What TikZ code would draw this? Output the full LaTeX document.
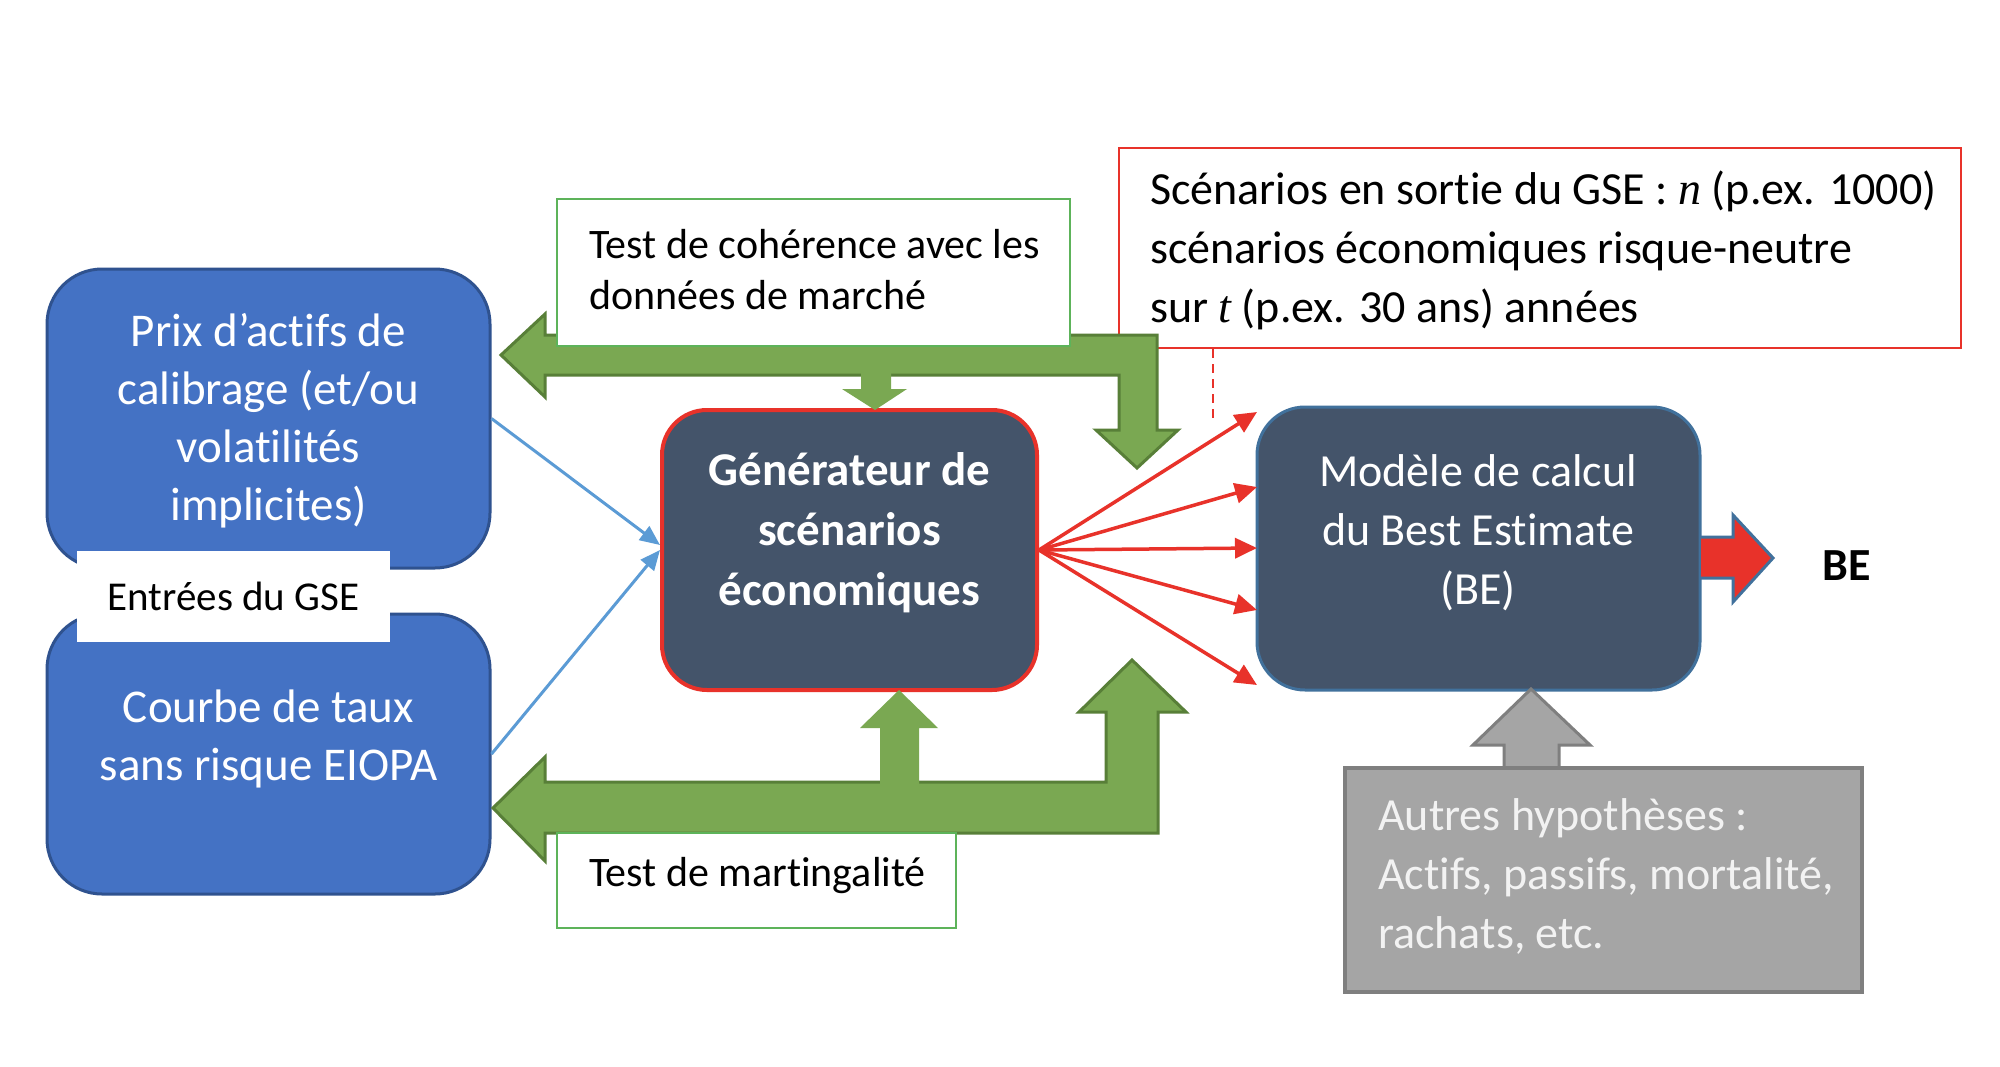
\documentclass[tikz,border=0pt]{standalone}
\usepackage{fontspec}
\setmainfont{Carlito}[Ligatures=NoCommon]
\newfontfamily\serifvar{Liberation Serif}
\usetikzlibrary{arrows.meta}
\definecolor{boxblue}{HTML}{4472C4}
\definecolor{boxblueline}{HTML}{2F528F}
\definecolor{slate}{HTML}{44546A}
\definecolor{slateline}{HTML}{41719C}
\definecolor{gfill}{HTML}{7AA852}
\definecolor{gdark}{HTML}{587F38}
\definecolor{gline}{HTML}{5DB35A}
\definecolor{redl}{HTML}{E8322A}
\definecolor{lineblue}{HTML}{5B9BD5}
\definecolor{grayfill}{HTML}{A5A5A5}
\definecolor{grayline}{HTML}{7F7F7F}
\definecolor{paletext}{HTML}{F2F2F2}
\newcommand{\varit}[1]{{\serifvar\itshape #1}}
\begin{document}
\begin{tikzpicture}[x=1pt,y=-1pt,
  txt/.style={font=\fontsize{46}{59}\selectfont, inner sep=0pt},
  bigtxt/.style={font=\fontsize{47}{58}\selectfont, inner sep=0pt},
  smalltxt/.style={font=\fontsize{42}{51}\selectfont, inner sep=0pt},
  bluebox/.style={draw=boxblueline, line width=3pt, fill=boxblue, rounded corners=55pt, inner sep=0pt},
  slatebox/.style={fill=slate, rounded corners=48pt, inner sep=0pt},
  testbox/.style={draw=gline, line width=2pt, fill=white, inner sep=0pt},
  bigarrow/.style={fill=gfill, draw=gdark, line width=3pt, line join=miter},
  smallarrow/.style={fill=gfill},
  fan/.style={draw=redl, line width=3.5pt, -{Triangle[length=22pt,width=20pt]}},
  inarrow/.style={draw=lineblue, line width=3pt, -{Triangle[length=20pt,width=17pt]}}
]
\useasboundingbox (0,0) rectangle (2000,1066);
\fill[white] (0,0) rectangle (2000,1066);

% left input boxes
\node[bluebox, minimum width=443pt, minimum height=299pt] (prix) at (268.5,418.5) {};
\node[bigtxt, text=white, align=center] (prixtxt) at (268.5,421) {Prix d’actifs de\\calibrage (et/ou\\volatilités\\implicites)};
\node[bluebox, minimum width=443pt, minimum height=280pt] (courbe) at (268.5,754) {};
\node[bigtxt, text=white, align=center] (courbetxt) at (268.5,739) {Courbe de taux\\sans risque EIOPA};
\node[fill=white, font=\fontsize{41}{50}\selectfont, inner sep=0pt, minimum width=313pt, minimum height=91pt] (entrees) at (233.5,596.5) {Entrées du GSE};

% red scenario box (behind green arrow)
\node[draw=redl, line width=2pt, fill=white, minimum width=842pt, minimum height=200pt, inner sep=0pt] (scen) at (1540,248) {};
\node[txt, anchor=west, align=left] (scentxt) at (1150,250) {Scénarios en sortie du GSE : \varit{n} (p.ex. 1000)\\scénarios économiques risque-neutre\\sur \varit{t} (p.ex. 30 ans) années};

% generator
\node[slatebox, draw=redl, line width=4pt, rounded corners=45pt, minimum width=375pt, minimum height=280pt] (gen) at (849.5,550) {};
\node[text=white, font=\fontsize{47}{60}\selectfont\bfseries, inner sep=0pt, align=center] (gentxt) at (849.5,533) {Générateur de\\scénarios\\économiques};

% model
\node[slatebox, draw=slateline, line width=3pt, minimum width=443pt, minimum height=283pt] (model) at (1478.5,548.5) {};
\node[txt, text=white, align=center] (modeltxt) at (1478,533) {Modèle de calcul\\du Best Estimate\\(BE)};

% green arrows
\draw[bigarrow] (501,355) -- (545,314) -- (545,335) -- (1157,335) -- (1157,430) -- (1178,430)
  -- (1137,468) -- (1096,430) -- (1119,430) -- (1119,375) -- (545,375) -- (545,397) -- cycle;
\fill[smallarrow] (861,372) -- (891,372) -- (891,389) -- (907,389) -- (875,410) -- (842,389) -- (861,389) -- cycle;
\draw[bigarrow] (493,808) -- (545,757) -- (545,782) -- (1106,782) -- (1106,712) -- (1079,712)
  -- (1132,660) -- (1186,712) -- (1158,712) -- (1158,833) -- (545,833) -- (545,861) -- cycle;
\fill[smallarrow] (880,784) -- (880,728) -- (860,728) -- (899,690) -- (938,728) -- (919,728) -- (919,784) -- cycle;

% green test boxes
\node[testbox, minimum width=513pt, minimum height=147pt] (test1) at (813.5,272.5) {};
\node[smalltxt, anchor=west, align=left] (test1txt) at (589,269.5) {Test de cohérence avec les\\données de marché};
\node[testbox, minimum width=399pt, minimum height=95pt] (test2) at (756.5,880.5) {};
\node[smalltxt, anchor=west] (test2txt) at (589,876) {Test de martingalité};

% input arrows
\draw[inarrow] (prix.east) -- ([yshift=5pt]gen.west);
\draw[inarrow] (courbe.east) -- (gen.west);

% scenario fan
\coordinate (m1) at (1257,412);
\coordinate (m2) at (1257,487);
\coordinate (m3) at (1257,548);
\coordinate (m4) at (1257,610);
\coordinate (m5) at (1257,685);
\foreach \i in {1,...,5} \draw[fan] (gen.east) -- (m\i);

% dashed callout line
\coordinate (dashend) at (1213,421);
\draw[draw=redl, line width=2pt, dash pattern=on 9pt off 6pt] (scen.south -| dashend) -- (dashend);

% BE output
\draw[fill=redl, draw=slateline, line width=3pt, line join=miter] (1701,537) -- (1733,537) -- (1733,515) -- (1773,558)
  -- (1733,602) -- (1733,578) -- (1701,578);
\node[font=\fontsize{46}{50}\selectfont\bfseries] (be) at (1847,566) {BE};

% other assumptions
\draw[fill=grayfill, draw=grayline, line width=3pt, line join=miter] (1504,772) -- (1504,745) -- (1473,745) -- (1531,689)
  -- (1590,745) -- (1559,745) -- (1559,772);
\node[fill=grayfill, draw=grayline, line width=4pt, minimum width=517pt, minimum height=224pt, inner sep=0pt] (autres) at (1603.5,880) {};
\node[txt, anchor=west, align=left, text=paletext] (autrestxt) at (1378,876) {Autres hypothèses :\\Actifs, passifs, mortalité,\\rachats, etc.};
\end{tikzpicture}
\end{document}
